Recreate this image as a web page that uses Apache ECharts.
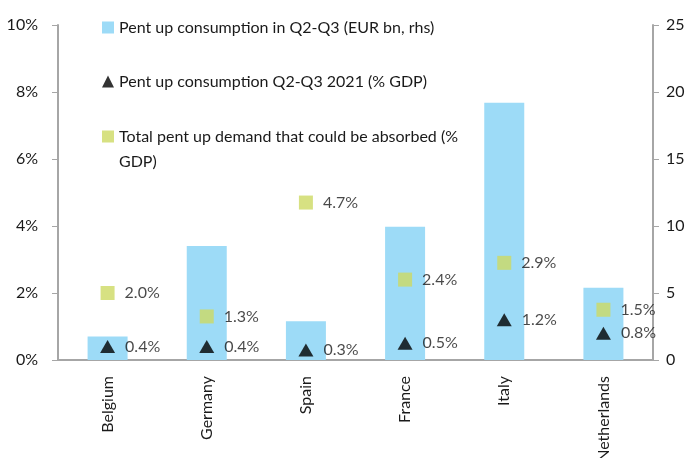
<!DOCTYPE html>
<html>
<head>
<meta charset="utf-8">
<script src="https://cdn.jsdelivr.net/npm/echarts@6/dist/echarts.min.js"></script>
<style>
  html, body { margin: 0; padding: 0; background: #fff; }
  #container { width: 691px; height: 458px; }
</style>
</head>
<body>
<div id="container"></div>
<script>
var dom = document.getElementById('container');
var myChart = echarts.init(dom, null, { renderer: 'canvas' });

// data
const countries = ['Belgium', 'Germany', 'Spain', 'France', 'Italy', 'Netherlands'];
const pentUpEurBn = [1.75, 8.5, 2.9, 9.95, 19.2, 5.4];
const pentUpPctGdp = [0.4, 0.4, 0.3, 0.5, 1.2, 0.8];
const totalPctGdp = [2.0, 1.3, 4.7, 2.4, 2.9, 1.5];

const nameBar = 'Pent up consumption in Q2-Q3 (EUR bn, rhs)';
const nameTri = 'Pent up consumption Q2-Q3 2021 (% GDP)';
const nameSq = 'Total pent up demand that could be absorbed (%\nGDP)';

const font = 'Lato';
const textColor = '#1a1a1a';
const axisColor = '#a6a6a6';

var option;

function legendAt(top, item, fmt) {
  return {
    orient: 'vertical',
    left: 97,
    top: top,
    itemWidth: 12,
    itemHeight: 12,
    selectedMode: false,
    data: [item],
    formatter: fmt,
    textStyle: { fontFamily: font, fontSize: 16, color: textColor, lineHeight: 25 }
  };
}

option = {
  animation: false,
  textStyle: { fontFamily: font },
  legend: [
    legendAt(10, { name: nameBar, icon: 'rect' }),
    legendAt(64, { name: nameTri, icon: 'triangle' }),
    // blank first line keeps the icon level with the first text line
    legendAt(94, { name: nameSq, icon: 'rect' }, n => '\n' + n)
  ],
  grid: { left: 58, right: 38, top: 25, bottom: 98, outerBoundsMode: 'none' },
  xAxis: {
    type: 'category',
    data: countries,
    axisLine: { lineStyle: { color: axisColor, width: 2 } },
    axisTick: { show: false },
    axisLabel: { rotate: 90, fontSize: 16, color: textColor, margin: 16, fontFamily: font }
  },
  yAxis: [
    {
      type: 'value', min: 0, max: 10, interval: 2,
      splitLine: { show: false },
      axisLine: { show: true, lineStyle: { color: axisColor, width: 2 } },
      axisTick: { show: true, length: 6, lineStyle: { color: axisColor } },
      axisLabel: { formatter: '{value}%', fontSize: 16, color: textColor, margin: 20, fontFamily: font }
    },
    {
      type: 'value', min: 0, max: 25, interval: 5,
      position: 'right',
      splitLine: { show: false },
      axisLine: { show: true, lineStyle: { color: axisColor, width: 2 } },
      axisTick: { show: true, length: 6, lineStyle: { color: axisColor } },
      axisLabel: { fontSize: 16, color: textColor, margin: 13, fontFamily: font }
    }
  ],
  series: [
    {
      name: nameBar,
      type: 'bar',
      yAxisIndex: 1,
      barWidth: 40,
      itemStyle: { color: '#9ddbf7' },
      data: pentUpEurBn
    },
    {
      name: nameTri,
      type: 'scatter',
      yAxisIndex: 0,
      symbol: 'triangle',
      symbolSize: [15, 13],
      itemStyle: { color: '#000' },
      label: {
        show: true, position: 'right', distance: 10,
        formatter: p => p.value.toFixed(1) + '%',
        fontSize: 16, color: textColor, fontFamily: font
      },
      data: pentUpPctGdp
    },
    {
      name: nameSq,
      type: 'scatter',
      yAxisIndex: 0,
      symbol: 'rect',
      symbolSize: 14,
      itemStyle: { color: '#cdda63' },
      label: {
        show: true, position: 'right', distance: 10,
        formatter: p => p.value.toFixed(1) + '%',
        fontSize: 16, color: textColor, fontFamily: font
      },
      data: totalPctGdp
    }
  ]
};

if (option && typeof option === 'object') {
  myChart.setOption(option);
}

window.addEventListener('resize', myChart.resize);
</script>
</body>
</html>
